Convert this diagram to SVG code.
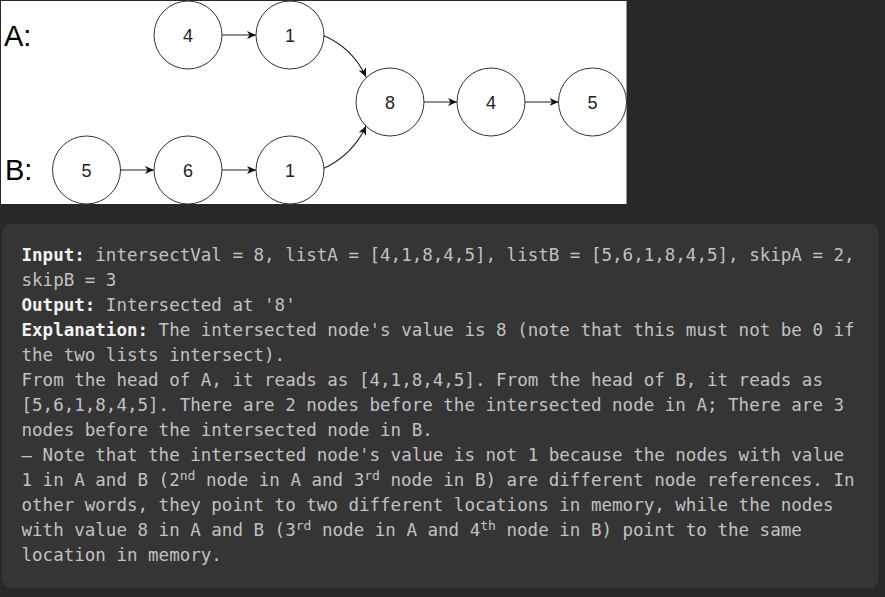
<svg xmlns="http://www.w3.org/2000/svg" width="885" height="597" viewBox="0 0 885 597">
<style>
.node circle{fill:#fff;stroke:#333;stroke-width:1}
.node text{font-family:"Liberation Sans",Arial,sans-serif;font-size:18px;fill:#222;text-anchor:middle}
.lbl{font-family:"Liberation Sans",Arial,sans-serif;font-size:29px;fill:#000}
.edge{fill:none;stroke:#222;stroke-width:1.1;marker-end:url(#ah)}
.code{font-family:"DejaVu Sans Mono",monospace;font-size:17.53px;fill:#c2c2c2}
.b{font-weight:bold;fill:#f2f2f2}
.sup{font-size:13.1px}
</style>
<defs>
<marker id="ah" markerWidth="10" markerHeight="8" refX="9" refY="4" orient="auto" markerUnits="userSpaceOnUse">
<path d="M0,0 L9,4 L0,8 L2.5,4 Z" fill="#111"/>
</marker>
</defs>
<rect x="0" y="0" width="885" height="597" fill="#282828"/>
<rect x="1" y="1" width="625.5" height="203" fill="#fff"/>
<text class="lbl" x="4" y="46">A:</text>
<text class="lbl" x="5" y="180">B:</text>
<g id="connectors">
<path class="edge" d="M222,35 L256,35"/>
<path class="edge" d="M120.5,170 L154,170"/>
<path class="edge" d="M222,170 L256,170"/>
<path class="edge" d="M424,102 L457,102"/>
<path class="edge" d="M525,102 L558.5,102"/>
<path class="edge" d="M322.5,35 Q353,48 366,77"/>
<path class="edge" d="M322.5,169 Q353,155 366,126"/>
</g>
<g id="nodeA4" class="node"><circle cx="188" cy="35" r="34"/><text x="188" y="41.5">4</text></g>
<g id="nodeA1" class="node"><circle cx="290" cy="35" r="34"/><text x="290" y="41.5">1</text></g>
<g id="nodeB5" class="node"><circle cx="86.5" cy="170" r="34"/><text x="86.5" y="176.5">5</text></g>
<g id="nodeB6" class="node"><circle cx="188" cy="170" r="34"/><text x="188" y="176.5">6</text></g>
<g id="nodeB1" class="node"><circle cx="290" cy="170" r="34"/><text x="290" y="176.5">1</text></g>
<g id="nodeC8" class="node"><circle cx="390" cy="102" r="34"/><text x="390" y="108.5">8</text></g>
<g id="nodeC4" class="node"><circle cx="491" cy="102" r="34"/><text x="491" y="108.5">4</text></g>
<g id="nodeC5" class="node"><circle cx="592.5" cy="102" r="34"/><text x="592.5" y="108.5">5</text></g>
<rect x="2" y="223.5" width="876.5" height="365" rx="9" fill="#353535"/>
<g class="code" xml:space="preserve">
<text x="21.5" y="260.7"><tspan class="b">Input:</tspan> intersectVal = 8, listA = [4,1,8,4,5], listB = [5,6,1,8,4,5], skipA = 2,</text>
<text x="21.5" y="285.7">skipB = 3</text>
<text x="21.5" y="310.7"><tspan class="b">Output:</tspan> Intersected at '8'</text>
<text x="21.5" y="335.7"><tspan class="b">Explanation:</tspan> The intersected node's value is 8 (note that this must not be 0 if</text>
<text x="21.5" y="360.7">the two lists intersect).</text>
<text x="21.5" y="385.7">From the head of A, it reads as [4,1,8,4,5]. From the head of B, it reads as</text>
<text x="21.5" y="410.7">[5,6,1,8,4,5]. There are 2 nodes before the intersected node in A; There are 3</text>
<text x="21.5" y="435.7">nodes before the intersected node in B.</text>
<text x="21.5" y="460.7">– Note that the intersected node's value is not 1 because the nodes with value</text>
<text x="21.5" y="485.7">1 in A and B (2<tspan class="sup" dy="-6">nd</tspan><tspan dy="6"> node in A and 3</tspan><tspan class="sup" dy="-6">rd</tspan><tspan dy="6"> node in B) are different node references. In</tspan></text>
<text x="21.5" y="510.7">other words, they point to two different locations in memory, while the nodes</text>
<text x="21.5" y="535.7">with value 8 in A and B (3<tspan class="sup" dy="-6">rd</tspan><tspan dy="6"> node in A and 4</tspan><tspan class="sup" dy="-6">th</tspan><tspan dy="6"> node in B) point to the same</tspan></text>
<text x="21.5" y="560.7">location in memory.</text>
</g>
</svg>
